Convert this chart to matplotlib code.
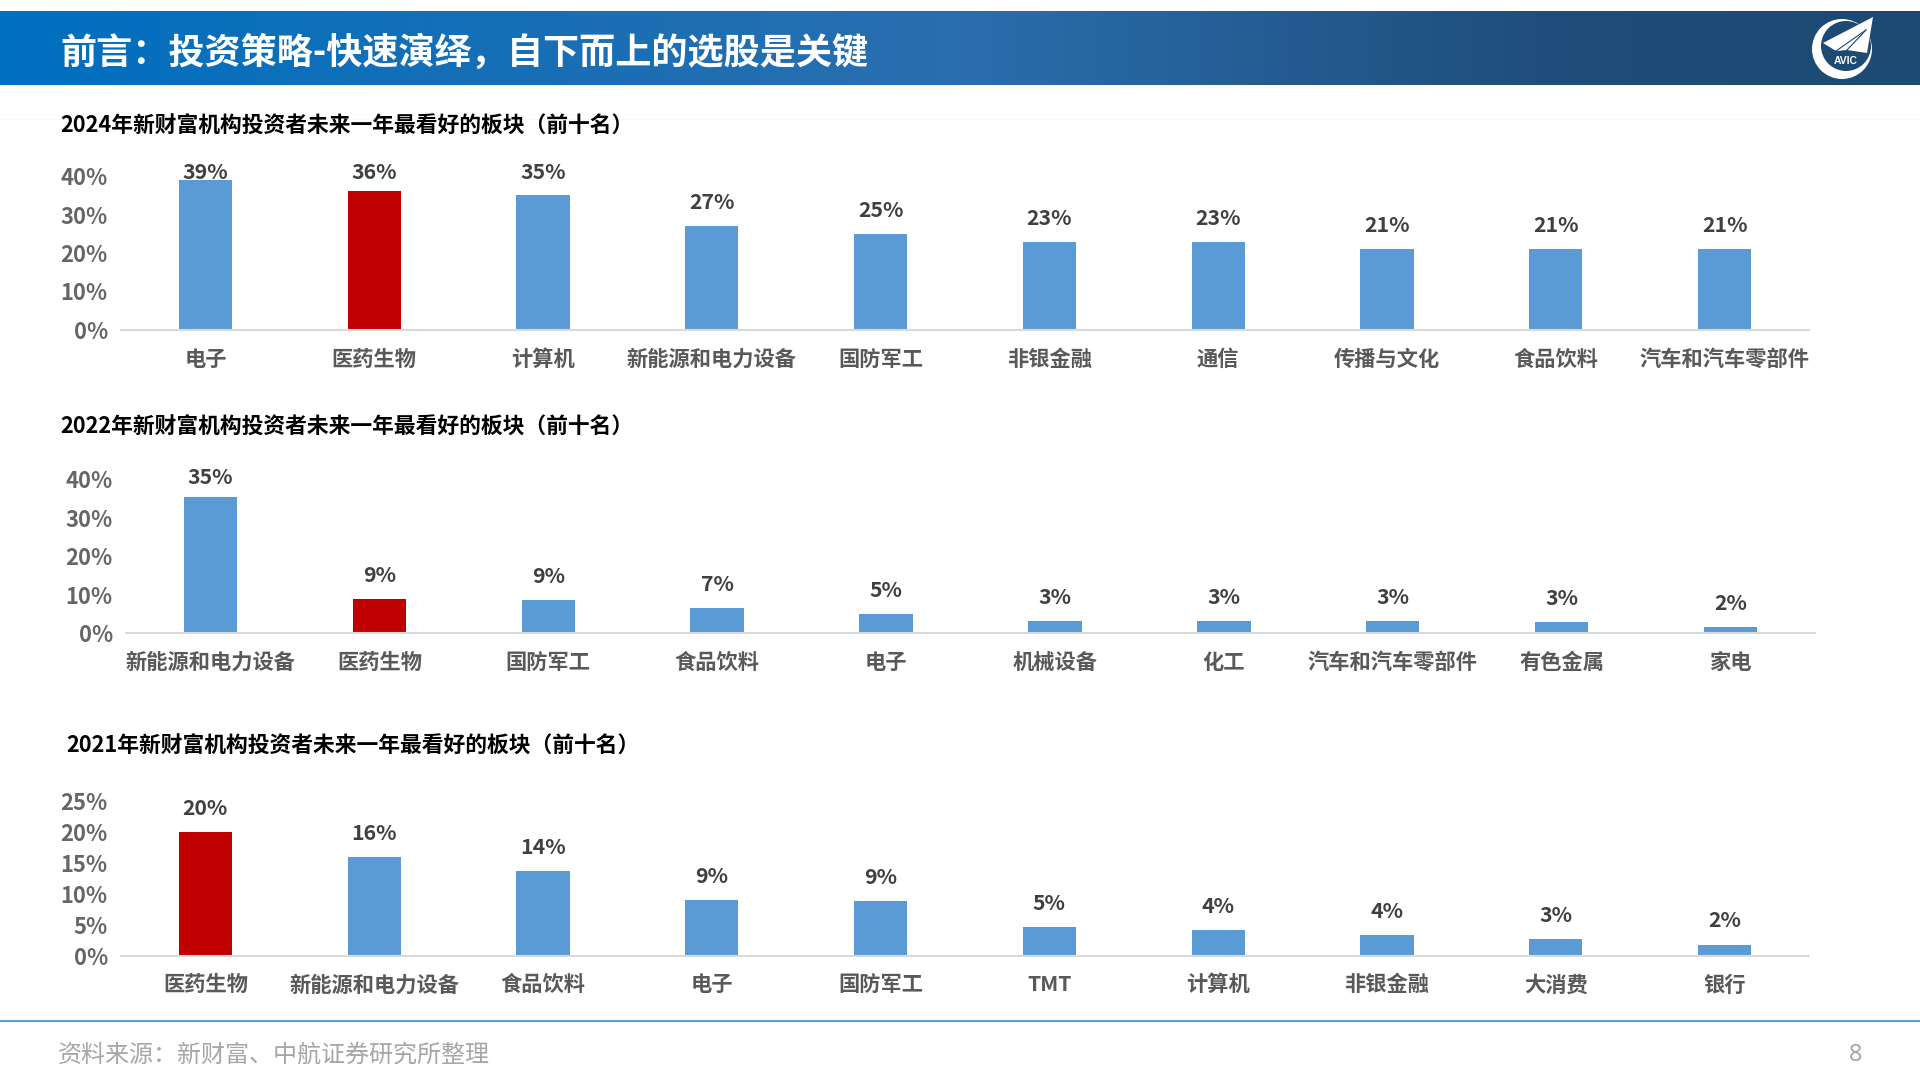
import matplotlib
matplotlib.use('Agg')
import numpy as np
import matplotlib.pyplot as plt
from matplotlib.colors import LinearSegmentedColormap
from matplotlib.patches import Circle, Polygon

plt.rcParams['font.family'] = ['Noto Sans CJK SC', 'DejaVu Sans']

TITLE = '前言：投资策略-快速演绎，自下而上的选股是关键'
SOURCE = '资料来源：新财富、中航证券研究所整理'

# 2024
title_2024 = '2024年新财富机构投资者未来一年最看好的板块（前十名）'
cats_2024 = ['电子', '医药生物', '计算机', '新能源和电力设备', '国防军工',
             '非银金融', '通信', '传播与文化', '食品饮料', '汽车和汽车零部件']
vals_2024 = [39, 36, 35, 27, 25, 22.9, 22.9, 21, 21, 21]
labels_2024 = ['39%', '36%', '35%', '27%', '25%', '23%', '23%', '21%', '21%', '21%']

# 2022
title_2022 = '2022年新财富机构投资者未来一年最看好的板块（前十名）'
cats_2022 = ['新能源和电力设备', '医药生物', '国防军工', '食品饮料', '电子',
             '机械设备', '化工', '汽车和汽车零部件', '有色金属', '家电']
vals_2022 = [35.3, 8.9, 8.7, 6.5, 5.0, 3.2, 3.1, 3.1, 2.9, 1.7]
labels_2022 = ['35%', '9%', '9%', '7%', '5%', '3%', '3%', '3%', '3%', '2%']

# 2021
title_2021 = '2021年新财富机构投资者未来一年最看好的板块（前十名）'
cats_2021 = ['医药生物', '新能源和电力设备', '食品饮料', '电子', '国防军工',
             'TMT', '计算机', '非银金融', '大消费', '银行']
vals_2021 = [20, 15.9, 13.7, 9.0, 8.8, 4.6, 4.1, 3.4, 2.7, 1.8]
labels_2021 = ['20%', '16%', '14%', '9%', '9%', '5%', '4%', '4%', '3%', '2%']

BLUE = '#5B9BD5'
RED = '#C00000'
W, H = 1920, 1080


def draw_panel(fig, bg, left, right, base, top, ymax, yticks, cats, vals, labels,
               red_idx, title, title_x, title_y, cap):
    ax = fig.add_axes([left / W, 1 - base / H, (right - left) / W, (base - top) / H])
    ax.patch.set_alpha(0)
    colors = [RED if i == red_idx else BLUE for i in range(len(vals))]
    ax.bar(range(len(vals)), vals, width=0.316, color=colors, zorder=2)
    ax.set_xlim(-0.5, 9.5)
    ax.set_ylim(0, ymax)
    ax.set_xticks(range(len(cats)))
    ax.set_xticklabels(cats, fontsize=15.3, fontweight='bold', color='#595959')
    ax.set_yticks(yticks)
    ax.set_yticklabels(['{}%'.format(t) for t in yticks], fontsize=15.8,
                       fontweight='bold', color='#666666')
    ax.tick_params(axis='both', length=0)
    ax.tick_params(axis='x', pad=13.5)
    ax.tick_params(axis='y', pad=9.5)
    for s in ['top', 'left', 'right']:
        ax.spines[s].set_visible(False)
    ax.spines['bottom'].set_color('#D9D9D9')
    ax.spines['bottom'].set_linewidth(1.5)
    for i, (v, lab) in enumerate(zip(vals, labels)):
        # the top labels sit against the plot area edge in the original
        ax.annotate(lab, (i, min(v, cap)), xytext=(0, 17.0), textcoords='offset points',
                    ha='center', va='center', fontsize=15.3, fontweight='bold', color='#404040')
    bg.text(title_x, title_y, title, fontsize=15.7, fontweight='bold', color='black',
            ha='left', va='center')


fig = plt.figure(figsize=(19.2, 10.8), dpi=100, facecolor='white')

# pixel coordinates for the slide furniture
bg = fig.add_axes([0, 0, 1, 1])
bg.set_xlim(0, W)
bg.set_ylim(H, 0)
bg.axis('off')

cmap = LinearSegmentedColormap.from_list('head', [(0, '#0070C0'), (0.5, '#2A6EAE'),
                                                  (0.8, '#1F4E7C'), (1, '#1C4A72')])
grad = np.linspace(0, 1, 512).reshape(1, -1)
bg.imshow(grad, cmap=cmap, extent=[0, W, 85, 11], aspect='auto', zorder=1)
bg.set_xlim(0, W)
bg.set_ylim(H, 0)
bg.text(60, 53.5, TITLE, fontsize=26, fontweight='bold', color='white', ha='left',
        va='center', zorder=3)

# AVIC logo
bg.add_patch(Circle((1842, 49), 30, fc='white', ec='none', zorder=3))
bg.add_patch(Circle((1846, 46), 25, fc='#1C4A72', ec='none', zorder=3))
bg.add_patch(Polygon([(1873, 17), (1823, 43), (1836, 51), (1847, 50), (1867, 53)],
                     fc='white', ec='none', zorder=4))
bg.plot([1866, 1836], [30, 51], color='#1C4A72', lw=0.8, zorder=5)
bg.plot([1866, 1847], [30, 50], color='#1C4A72', lw=0.8, zorder=5)
bg.text(1846, 61, 'AVIC', fontsize=7.5, fontweight='bold', color='white', ha='center',
        va='center', zorder=4, family=['Liberation Sans', 'DejaVu Sans'])

bg.axhline(119, color='#F7F7FC', lw=1, zorder=0)
bg.plot([0, W], [1020.7, 1020.7], color=BLUE, lw=1.5, zorder=1)
bg.text(58, 1055, SOURCE, fontsize=17.3, color='#A6A6A6', ha='left', va='center')
bg.text(1856, 1055, '8', fontsize=17, color='#A6A6A6', ha='center', va='center',
        family=['Noto Sans', 'DejaVu Sans'], fontweight='light')

draw_panel(fig, bg, 121, 1809, 330, 176, 40, [0, 10, 20, 30, 40], cats_2024, vals_2024,
           labels_2024, 1, title_2024, 60, 126, 34.9)
draw_panel(fig, bg, 126, 1815, 633.3, 479.3, 40, [0, 10, 20, 30, 40], cats_2022, vals_2022,
           labels_2022, 1, title_2022, 60, 427, 34.4)
draw_panel(fig, bg, 121, 1809, 955.7, 800.7, 25, [0, 5, 10, 15, 20, 25], cats_2021, vals_2021,
           labels_2021, 0, title_2021, 66, 746.5, 25)

fig.savefig('out.png', dpi=100)
